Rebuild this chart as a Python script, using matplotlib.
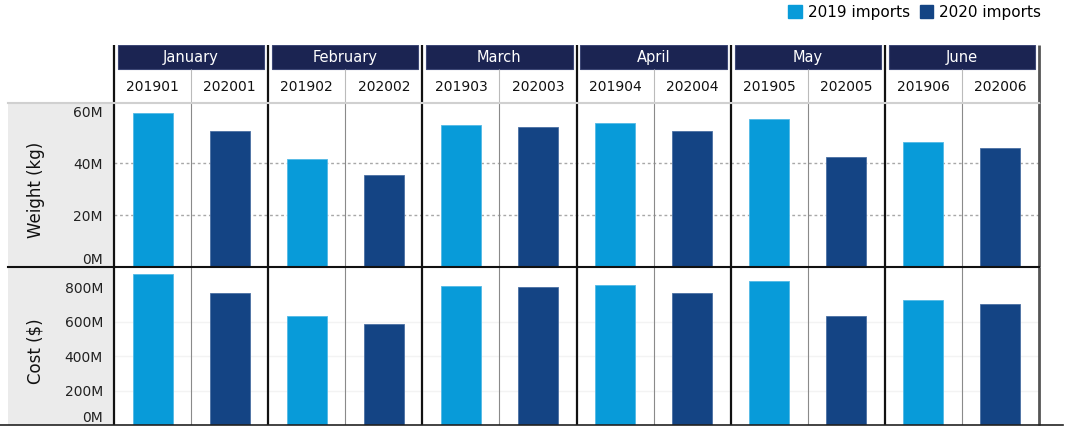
import matplotlib.pyplot as plt
from matplotlib.patches import Patch, Rectangle
from matplotlib.lines import Line2D
import numpy as np

months = ["January", "February", "March", "April", "May", "June"]
codes_2019 = ["201901", "201902", "201903", "201904", "201905", "201906"]
codes_2020 = ["202001", "202002", "202003", "202004", "202005", "202006"]
weight_2019 = [59.2e6, 41.5e6, 54.6e6, 55.4e6, 56.9e6, 48.1e6]
weight_2020 = [52.3e6, 35.4e6, 53.8e6, 52.3e6, 42.3e6, 45.8e6]
cost_2019 = [876e6, 632e6, 806e6, 812e6, 835e6, 725e6]
cost_2020 = [766e6, 586e6, 800e6, 766e6, 632e6, 702e6]
weight_ticks = [0, 20e6, 40e6, 60e6]
cost_ticks = [0, 200e6, 400e6, 600e6, 800e6]

W, H = 1089, 426
light = "#089bd9"
dark = "#144484"
navy = "#1b2452"

def px_box(x0, y0, x1, y1):
    # pixel box (top-left origin) to figure fraction
    return [x0 / W, 1 - y1 / H, (x1 - x0) / W, (y1 - y0) / H]

def draw_panel(ax, v19, v20, ticks, top, label, grid_color, grid_style):
    x = np.arange(len(months)) * 2
    ax.bar(x, v19, width=0.52, color=light, edgecolor="#52b9e6", linewidth=0.6, zorder=3)
    ax.bar(x + 1, v20, width=0.52, color=dark, edgecolor="#4a6fa3", linewidth=0.6, zorder=3)
    ax.set_xlim(-0.5, 11.5)
    ax.set_ylim(0, top)
    ax.set_xticks([])
    ax.set_yticks(ticks)
    ax.set_yticklabels(["%dM" % (t / 1e6) for t in ticks], fontsize=10, color="#222222")
    ax.tick_params(axis="y", length=0, pad=8)
    ax.get_yticklabels()[0].set_va("bottom")
    for t in ticks[1:-1]:
        ax.axhline(t, color=grid_color, linestyle=grid_style, linewidth=1, zorder=1)
    for s in ax.spines.values():
        s.set_visible(False)
    ax.vlines(x + 0.5, 0, top, color="#8a8a8a", linewidth=0.8, zorder=2)
    ax.vlines(np.append(x - 0.5, 11.5)[:-1], 0, top, color="#111111", linewidth=1.6, zorder=4, clip_on=False)
    ax.vlines([11.5], 0, top, color="#555555", linewidth=2, zorder=4, clip_on=False)
    ax.set_ylabel(label, fontsize=12, color="#111111")
    ax.yaxis.set_label_coords(-0.075, 0.47)

figure = plt.figure(figsize=(W / 100, H / 100), dpi=100)

# gray label column
side = figure.add_axes(px_box(8, 103, 114, 425))
side.set_facecolor("#ebebeb")
side.set_xticks([])
side.set_yticks([])
for s in side.spines.values():
    s.set_visible(False)

ax1 = figure.add_axes(px_box(114, 103, 1039, 267))
draw_panel(ax1, weight_2019, weight_2020, weight_ticks, 63.1e6, "Weight (kg)", "#a8a8a8", (0, (2, 2)))
ax2 = figure.add_axes(px_box(114, 267, 1039, 425))
draw_panel(ax2, cost_2019, cost_2020, cost_ticks, 916e6, "Cost ($)", "#f3f3f3", "-")

# header with months and period codes
head = figure.add_axes(px_box(114, 45, 1039, 103))
head.set_xlim(-0.5, 11.5)
head.set_ylim(0, 58)
head.axis("off")
for i, m in enumerate(months):
    head.add_patch(Rectangle((2 * i - 0.45, 34), 1.9, 24, facecolor=navy, edgecolor="#3d4775", linewidth=0.8))
    head.text(2 * i + 0.5, 46, m, color="white", fontsize=10.5, ha="center", va="center")
    head.text(2 * i, 16, codes_2019[i], color="#111111", fontsize=10, ha="center", va="center")
    head.text(2 * i + 1, 16, codes_2020[i], color="#111111", fontsize=10, ha="center", va="center")
head.vlines(np.arange(len(months)) * 2 + 0.5, 0, 34, color="#bbbbbb", linewidth=0.8)
head.vlines(np.arange(len(months)) * 2 - 0.5, 0, 58, color="#111111", linewidth=1.6, clip_on=False)
head.vlines([11.5], 0, 58, color="#555555", linewidth=2, clip_on=False)

# separating rules
figure.add_artist(Line2D([8 / W, 1039 / W], [1 - 103 / H] * 2, color="#d0d0d0", linewidth=1.5))
figure.add_artist(Line2D([8 / W, 1039 / W], [1 - 267 / H] * 2, color="#111111", linewidth=1.5))
figure.add_artist(Line2D([0, 1063 / W], [1 - 424.5 / H] * 2, color="#222222", linewidth=1.2))

figure.legend(handles=[Patch(color=light, label="2019 imports"), Patch(color=dark, label="2020 imports")],
              loc="upper right", bbox_to_anchor=(1046 / W, 1.0), ncol=2, frameon=False, fontsize=11,
              handlelength=0.9, handleheight=0.9, handletextpad=0.4, columnspacing=0.6,
              borderaxespad=0, borderpad=0.3)

figure.savefig("out.png", dpi=100)
